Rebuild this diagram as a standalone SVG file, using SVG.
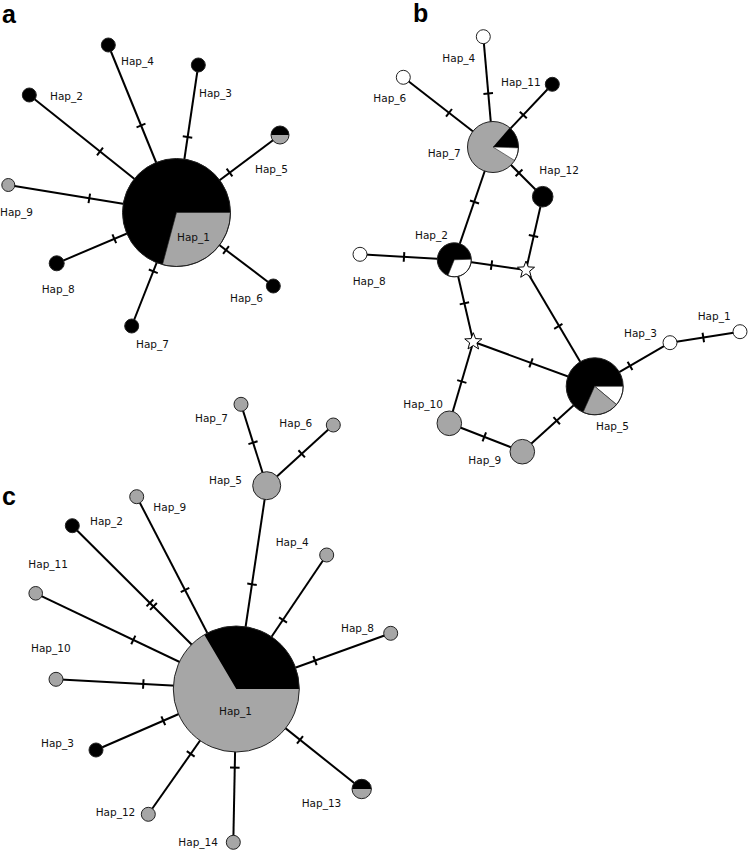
<svg xmlns="http://www.w3.org/2000/svg" xmlns:xlink="http://www.w3.org/1999/xlink" width="749" height="852" viewBox="0 0 749 852">
<style>
.e{stroke:#000;stroke-width:2;fill:none}
.t{stroke:#000;stroke-width:2}
.n{stroke:#222;stroke-width:1}
.k{fill:#000}
.g{fill:#a6a6a6}
.w{fill:#fff}
.s{stroke:none}
.o{fill:none;stroke:#222;stroke-width:1}
text{font-family:"DejaVu Sans",Verdana,sans-serif;font-size:10.5px;fill:#111}
.p{font-family:"Liberation Sans",Arial,sans-serif;font-size:25px;font-weight:bold;fill:#000}
</style>
<defs>
<line id="tk" x1="0" y1="-4.8" x2="0" y2="4.8" class="t"/>
<g id="tk2"><line x1="-2.5" y1="-4.8" x2="-2.5" y2="4.8" class="t"/><line x1="2.5" y1="-4.8" x2="2.5" y2="4.8" class="t"/></g>
<path id="star" d="M0,-9 L2.25,-3.1 L8.56,-2.78 L3.63,1.18 L5.29,7.28 L0,3.8 L-5.29,7.28 L-3.63,1.18 L-8.56,-2.78 L-2.25,-3.1 Z" fill="#fff" stroke="#000" stroke-width="1"/>
</defs>
<rect width="749" height="852" fill="#fff"/>

<text class="p" x="2" y="23">a</text>
<text class="p" x="413" y="22">b</text>
<text class="p" x="2" y="505">c</text>

<!-- Panel a connectors -->
<g id="connectors-a">
<line class="e" x1="176.5" y1="212.5" x2="29.3" y2="95"/>
<line class="e" x1="176.5" y1="212.5" x2="108.3" y2="45"/>
<line class="e" x1="176.5" y1="212.5" x2="198.3" y2="65"/>
<line class="e" x1="176.5" y1="212.5" x2="280" y2="135"/>
<line class="e" x1="176.5" y1="212.5" x2="8.3" y2="185"/>
<line class="e" x1="176.5" y1="212.5" x2="56.7" y2="263.3"/>
<line class="e" x1="176.5" y1="212.5" x2="131.7" y2="326"/>
<line class="e" x1="176.5" y1="212.5" x2="273.3" y2="286"/>
<use href="#tk" transform="translate(100,151.5) rotate(38.6)"/>
<use href="#tk" transform="translate(141,125.5) rotate(67.8)"/>
<use href="#tk" transform="translate(187.5,137) rotate(-81.6)"/>
<use href="#tk" transform="translate(229.5,172.5) rotate(-36.8)"/>
<use href="#tk" transform="translate(89.3,198.3) rotate(9.3)"/>
<use href="#tk" transform="translate(114.3,238.8) rotate(-23)"/>
<use href="#tk" transform="translate(153.3,271.3) rotate(111.5)"/>
<use href="#tk" transform="translate(226,250) rotate(37.2)"/>
</g>

<!-- Panel a nodes -->
<g id="a-hap1">
<circle cx="176.5" cy="212.5" r="54" class="k s"/>
<path d="M176.5,212.5 L230.5,212.5 A54,54 0 0 1 162.5,264.7 Z" class="g" stroke="#222" stroke-width="0.6"/>
<circle cx="176.5" cy="212.5" r="54" class="o"/>
<text x="177" y="240.5">Hap_1</text>
</g>
<g id="a-hap2"><circle cx="29.3" cy="95" r="7" class="k n"/><text x="50" y="99.5">Hap_2</text></g>
<g id="a-hap4"><circle cx="108.3" cy="45" r="7" class="k n"/><text x="121" y="65">Hap_4</text></g>
<g id="a-hap3"><circle cx="198.3" cy="65" r="7" class="k n"/><text x="199" y="97">Hap_3</text></g>
<g id="a-hap5">
<circle cx="280" cy="135" r="9" class="g s"/>
<path d="M271,135 A9,9 0 0 1 289,135 Z" class="k"/>
<circle cx="280" cy="135" r="9" class="o"/>
<text x="255" y="173">Hap_5</text>
</g>
<g id="a-hap9"><circle cx="8.3" cy="185" r="6.5" class="g n"/><text x="0" y="215.5">Hap_9</text></g>
<g id="a-hap8"><circle cx="56.7" cy="263.3" r="7.5" class="k n"/><text x="41.7" y="293">Hap_8</text></g>
<g id="a-hap7"><circle cx="131.7" cy="326" r="7" class="k n"/><text x="136" y="348">Hap_7</text></g>
<g id="a-hap6"><circle cx="273.3" cy="286" r="7" class="k n"/><text x="230" y="301.5">Hap_6</text></g>

<!-- Panel b connectors -->
<g id="connectors-b">
<line class="e" x1="493" y1="147" x2="403.3" y2="77.3"/>
<line class="e" x1="493" y1="147" x2="483.3" y2="36.7"/>
<line class="e" x1="493" y1="147" x2="552.3" y2="84.3"/>
<line class="e" x1="493" y1="147" x2="542.7" y2="196.7"/>
<line class="e" x1="493" y1="147" x2="454.3" y2="259.8"/>
<line class="e" x1="542.7" y1="196.7" x2="526" y2="270"/>
<line class="e" x1="360" y1="254.3" x2="454.3" y2="259.8"/>
<line class="e" x1="454.3" y1="259.8" x2="526" y2="270"/>
<line class="e" x1="454.3" y1="259.8" x2="473.3" y2="341.7"/>
<line class="e" x1="526" y1="270" x2="594.7" y2="386.3"/>
<line class="e" x1="473.3" y1="341.7" x2="594.7" y2="386.3"/>
<line class="e" x1="473.3" y1="341.7" x2="449.3" y2="423.3"/>
<line class="e" x1="449.3" y1="423.3" x2="522.3" y2="451.7"/>
<line class="e" x1="522.3" y1="451.7" x2="594.7" y2="386.3"/>
<line class="e" x1="594.7" y1="386.3" x2="670" y2="342.7"/>
<line class="e" x1="670" y1="342.7" x2="740" y2="331.7"/>
<use href="#tk" transform="translate(449,112.8) rotate(37.8)"/>
<use href="#tk" transform="translate(488.2,93.5) rotate(85)"/>
<use href="#tk" transform="translate(523.3,115) rotate(-46.7)"/>
<use href="#tk" transform="translate(519,172.8) rotate(45.2)"/>
<use href="#tk" transform="translate(474.5,202) rotate(109)"/>
<use href="#tk" transform="translate(533.5,236) rotate(102.8)"/>
<use href="#tk" transform="translate(404,256.9) rotate(3.5)"/>
<use href="#tk" transform="translate(491.5,265.2) rotate(7.9)"/>
<use href="#tk" transform="translate(464.4,303.3) rotate(76.9)"/>
<use href="#tk" transform="translate(558.3,326.4) rotate(59.5)"/>
<use href="#tk" transform="translate(531,362.9) rotate(20.2)"/>
<use href="#tk" transform="translate(461.8,381.5) rotate(106.4)"/>
<use href="#tk" transform="translate(484.3,436.9) rotate(21.3)"/>
<use href="#tk" transform="translate(556.7,420.7) rotate(-42.2)"/>
<use href="#tk" transform="translate(630,365.8) rotate(-30)"/>
<use href="#tk" transform="translate(703.3,337.5) rotate(-8.9)"/>
</g>

<!-- Panel b nodes -->
<g id="b-hap7">
<circle cx="493" cy="147" r="25.5" class="g s"/>
<path d="M493,147 L509.7,127.8 A25.5,25.5 0 0 1 518.5,147.9 Z" class="k"/>
<path d="M493,147 L518.5,147.9 A25.5,25.5 0 0 1 514.6,160.5 Z" class="w" stroke="#222" stroke-width="0.6"/>
<circle cx="493" cy="147" r="25.5" class="o"/>
<text x="427.7" y="157">Hap_7</text>
</g>
<g id="b-hap4"><circle cx="483.3" cy="36.7" r="7" class="w n"/><text x="442.3" y="61.5">Hap_4</text></g>
<g id="b-hap6"><circle cx="403.3" cy="77.3" r="7" class="w n"/><text x="373.3" y="101.5">Hap_6</text></g>
<g id="b-hap11"><circle cx="552.3" cy="84.3" r="7" class="k n"/><text x="501" y="85.5">Hap_11</text></g>
<g id="b-hap12"><circle cx="542.7" cy="196.7" r="10.3" class="k n"/><text x="539.3" y="174">Hap_12</text></g>
<g id="b-hap2">
<circle cx="454.3" cy="259.8" r="17" class="k s"/>
<path d="M454.3,259.8 L471.3,259.2 A17,17 0 0 1 447.9,275.6 Z" class="w" stroke="#222" stroke-width="0.6"/>
<circle cx="454.3" cy="259.8" r="17" class="o"/>
<text x="415" y="239">Hap_2</text>
</g>
<g id="b-hap8"><circle cx="360" cy="254.3" r="7" class="w n"/><text x="352.7" y="284.5">Hap_8</text></g>
<g id="b-mv1"><use href="#star" transform="translate(526,270)"/></g>
<g id="b-mv2"><use href="#star" transform="translate(473.3,341.7)"/></g>
<g id="b-hap5">
<circle cx="594.7" cy="386.3" r="28.5" class="k s"/>
<path d="M594.7,386.3 L623.2,386.3 A28.5,28.5 0 0 1 616.5,404.6 Z" class="w" stroke="#222" stroke-width="0.6"/>
<path d="M594.7,386.3 L616.5,404.6 A28.5,28.5 0 0 1 583.1,412.3 Z" class="g" stroke="#222" stroke-width="0.6"/>
<circle cx="594.7" cy="386.3" r="28.5" class="o"/>
<text x="596" y="430">Hap_5</text>
</g>
<g id="b-hap3"><circle cx="670" cy="342.7" r="7" class="w n"/><text x="624" y="336.5">Hap_3</text></g>
<g id="b-hap1"><circle cx="740" cy="331.7" r="7" class="w n"/><text x="697.7" y="320">Hap_1</text></g>
<g id="b-hap10"><circle cx="449.3" cy="423.3" r="12.3" class="g n"/><text x="403.3" y="408">Hap_10</text></g>
<g id="b-hap9"><circle cx="522.3" cy="451.7" r="12.3" class="g n"/><text x="468.3" y="464">Hap_9</text></g>

<!-- Panel c connectors -->
<g id="connectors-c">
<line class="e" x1="236.3" y1="689" x2="266.7" y2="485.7"/>
<line class="e" x1="266.7" y1="485.7" x2="241" y2="404.3"/>
<line class="e" x1="266.7" y1="485.7" x2="333.3" y2="425"/>
<line class="e" x1="236.3" y1="689" x2="136.7" y2="496.7"/>
<line class="e" x1="236.3" y1="689" x2="72.3" y2="525.7"/>
<line class="e" x1="236.3" y1="689" x2="35.7" y2="593.3"/>
<line class="e" x1="236.3" y1="689" x2="56" y2="679.3"/>
<line class="e" x1="236.3" y1="689" x2="96" y2="750"/>
<line class="e" x1="236.3" y1="689" x2="148.3" y2="814.3"/>
<line class="e" x1="236.3" y1="689" x2="233.3" y2="842.3"/>
<line class="e" x1="236.3" y1="689" x2="361.7" y2="789"/>
<line class="e" x1="236.3" y1="689" x2="390.7" y2="633.3"/>
<line class="e" x1="236.3" y1="689" x2="326.7" y2="555"/>
<use href="#tk" transform="translate(252,584.3) rotate(98.5)"/>
<use href="#tk" transform="translate(253,442.7) rotate(72.5)"/>
<use href="#tk" transform="translate(301.7,453.8) rotate(-42.3)"/>
<use href="#tk" transform="translate(185,590) rotate(62.6)"/>
<use href="#tk2" transform="translate(151.7,604.7) rotate(44.9)"/>
<use href="#tk" transform="translate(133.3,639.9) rotate(25.5)"/>
<use href="#tk" transform="translate(143.3,684) rotate(3.1)"/>
<use href="#tk" transform="translate(163.3,720.7) rotate(-23.5)"/>
<use href="#tk" transform="translate(190.7,753.9) rotate(-54.9)"/>
<use href="#tk" transform="translate(234.8,767.7) rotate(91.1)"/>
<use href="#tk" transform="translate(300,739.8) rotate(38.6)"/>
<use href="#tk" transform="translate(315,660.6) rotate(-19.8)"/>
<use href="#tk" transform="translate(283,620) rotate(-56)"/>
</g>

<!-- Panel c nodes -->
<g id="c-hap1">
<circle cx="236.3" cy="689" r="63" class="g s"/>
<path d="M236.3,689 L204.3,634.7 A63,63 0 0 1 299.3,689 Z" class="k"/>
<circle cx="236.3" cy="689" r="63" class="o"/>
<text x="219" y="714.5">Hap_1</text>
</g>
<g id="c-hap5"><circle cx="266.7" cy="485.7" r="14" class="g n"/><text x="209" y="484">Hap_5</text></g>
<g id="c-hap7"><circle cx="241" cy="404.3" r="7" class="g n"/><text x="195" y="421.5">Hap_7</text></g>
<g id="c-hap6"><circle cx="333.3" cy="425" r="7" class="g n"/><text x="279.3" y="427">Hap_6</text></g>
<g id="c-hap9"><circle cx="136.7" cy="496.7" r="7" class="g n"/><text x="153.3" y="511">Hap_9</text></g>
<g id="c-hap2"><circle cx="72.3" cy="525.7" r="7" class="k n"/><text x="90" y="524.5">Hap_2</text></g>
<g id="c-hap11"><circle cx="35.7" cy="593.3" r="6.8" class="g n"/><text x="28.3" y="568">Hap_11</text></g>
<g id="c-hap10"><circle cx="56" cy="679.3" r="7" class="g n"/><text x="31" y="652">Hap_10</text></g>
<g id="c-hap3"><circle cx="96" cy="750" r="7" class="k n"/><text x="41" y="747">Hap_3</text></g>
<g id="c-hap12"><circle cx="148.3" cy="814.3" r="7" class="g n"/><text x="95.7" y="816">Hap_12</text></g>
<g id="c-hap14"><circle cx="233.3" cy="842.3" r="7" class="g n"/><text x="178.3" y="845.5">Hap_14</text></g>
<g id="c-hap13">
<circle cx="361.7" cy="789" r="9.7" class="g s"/>
<path d="M352,789 A9.7,9.7 0 0 1 371.4,789 Z" class="k"/>
<circle cx="361.7" cy="789" r="9.7" class="o"/>
<text x="301.7" y="807">Hap_13</text>
</g>
<g id="c-hap8"><circle cx="390.7" cy="633.3" r="7" class="g n"/><text x="341" y="632">Hap_8</text></g>
<g id="c-hap4"><circle cx="326.7" cy="555" r="7" class="g n"/><text x="275.7" y="545.5">Hap_4</text></g>
</svg>
